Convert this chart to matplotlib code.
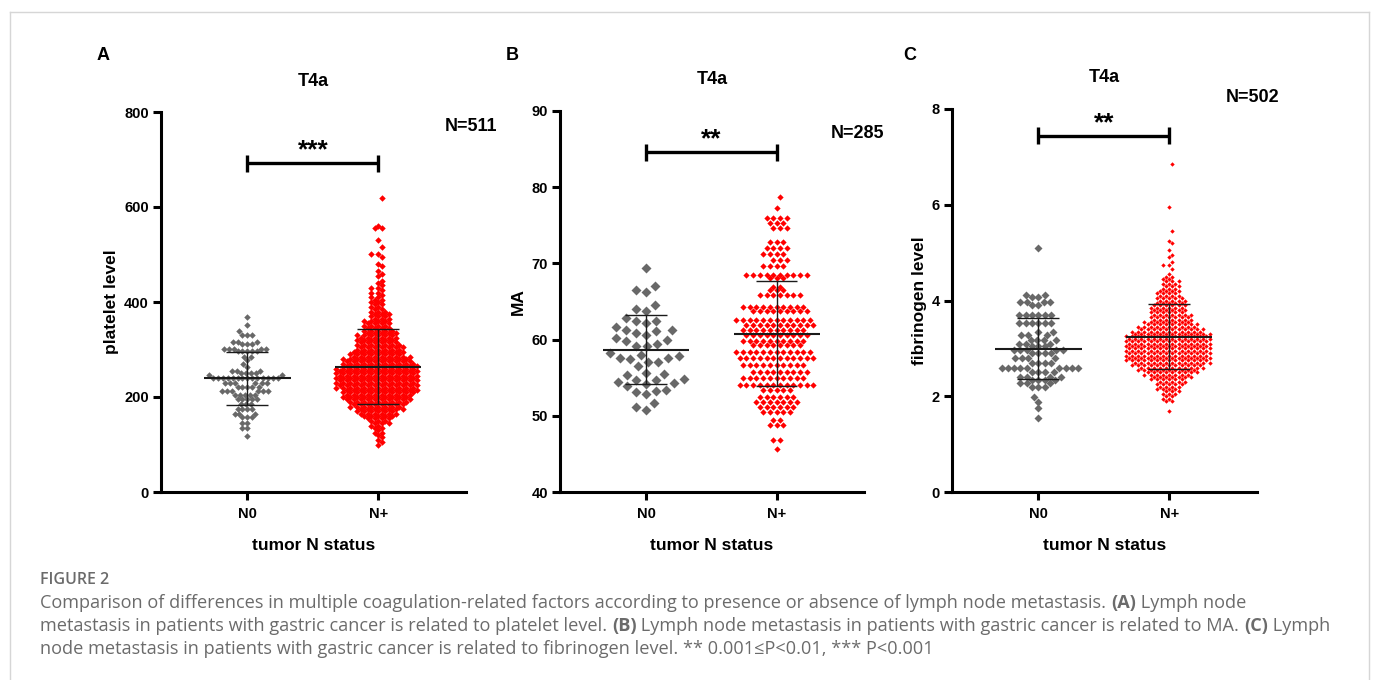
import matplotlib
matplotlib.use("Agg")
import matplotlib.pyplot as plt
from matplotlib.font_manager import FontProperties
from matplotlib.lines import Line2D
import numpy as np

plt.rcParams["font.family"] = ["Liberation Sans", "DejaVu Sans"]
plt.rcParams["font.weight"] = "bold"

W, H = 1373, 680
GROUPS = ["N0", "N+"]
GRAY = "#686868"
RED = "#ff0000"

# ---- Panel A: platelet level (row value, number of points in that row) ----
plt_n0_vals = [117, 135, 146, 157, 165, 175, 185, 195, 204, 212, 222, 230, 240, 246,
               250, 255, 264, 270, 278, 285, 296, 302, 311, 316, 331, 338, 352, 369]
plt_n0_counts = [1, 2, 2, 3, 3, 4, 3, 5, 5, 6, 5, 6, 14, 2,
                 4, 3, 1, 1, 1, 2, 5, 5, 3, 3, 3, 1, 1, 1]
plt_np_vals = [100, 105, 110, 115, 120, 125, 130, 135, 140, 145, 150, 155, 160, 165,
               170, 175, 180, 185, 190, 195, 200, 205, 210, 215, 220, 225, 230, 235,
               240, 245, 250, 255, 260, 265, 270, 275, 280, 285, 290, 295, 300, 305,
               310, 315, 320, 325, 330, 335, 340, 345, 350, 355, 360, 365, 370, 375,
               380, 385, 390, 395, 400, 405, 410, 415, 420, 425, 430, 435, 440, 445,
               455, 460, 465, 475, 480, 495, 500, 515, 530, 555, 560, 620]
plt_np_counts = [1, 1, 1, 1, 1, 2, 1, 2, 2, 3, 3, 4, 5, 6,
                 6, 7, 8, 8, 9, 10, 10, 10, 11, 11, 12, 12, 12, 12,
                 12, 12, 12, 12, 12, 11, 11, 10, 10, 9, 8, 8, 7, 7,
                 7, 6, 6, 6, 6, 5, 5, 4, 4, 4, 4, 3, 3, 3,
                 3, 2, 2, 2, 2, 2, 2, 1, 2, 1, 2, 1, 1, 1,
                 1, 1, 1, 1, 1, 1, 2, 1, 1, 2, 1, 1]
plt_mean = [239, 264]
plt_sd = [56, 78.5]

# ---- Panel B: MA (N0 as single values, N+ as rows) ----
ma_n0 = [69.4, 67.0, 66.5, 66.3, 64.6, 64.0, 63.8, 62.9, 62.5, 62.4, 62.2, 61.7,
         61.2, 61.2, 61.1, 60.9, 60.6, 60.2, 60.0, 59.8, 59.4, 59.2, 59.1, 58.2,
         58.0, 57.8, 57.6, 57.6, 57.4, 57.1, 57.0, 56.5, 55.6, 55.5, 55.4, 54.8,
         54.7, 54.7, 54.5, 54.3, 54.2, 53.9, 53.4, 53.3, 53.1, 52.8, 51.7, 51.2, 50.8]
ma_np_vals = [45.7, 46.85, 48.8, 49.4, 50.5, 51.2, 51.85, 52.5, 53.4, 54.0, 54.9,
              55.8, 56.7, 57.55, 58.4, 59.3, 59.8, 60.6, 61.3, 61.9, 62.6, 63.8,
              64.3, 65.8, 66.5, 66.9, 68.1, 68.5, 69.6, 70.4, 71.2, 72.0, 72.85,
              74.6, 75.3, 75.9, 77.3, 78.75]
ma_np_counts = [1, 2, 3, 2, 5, 6, 7, 6, 5, 12, 10,
                9, 10, 12, 12, 8, 10, 10, 10, 11, 12, 9,
                10, 7, 3, 2, 3, 10, 4, 3, 4, 4, 3,
                3, 3, 4, 1, 1]
ma_mean = [58.7, 60.8]
ma_sd = [4.5, 6.9]

# ---- Panel C: fibrinogen level ----
fib_n0_vals = [1.54, 1.75, 1.89, 1.99, 2.20, 2.27, 2.34, 2.41, 2.51, 2.58, 2.69, 2.79,
               2.90, 2.97, 3.04, 3.10, 3.17, 3.28, 3.35, 3.52, 3.70, 3.90, 3.97, 4.08,
               4.11, 5.09]
fib_n0_counts = [1, 1, 1, 1, 3, 3, 4, 4, 4, 9, 4, 4,
                 4, 5, 3, 3, 4, 3, 2, 6, 6, 2, 4, 2,
                 2, 1]
fib_np_vals = [1.70, 1.90, 1.95, 2.00, 2.05, 2.10, 2.15, 2.20, 2.25, 2.30, 2.35, 2.40,
               2.45, 2.50, 2.55, 2.60, 2.65, 2.70, 2.75, 2.80, 2.85, 2.90, 2.95, 3.00,
               3.05, 3.10, 3.15, 3.20, 3.25, 3.30, 3.35, 3.40, 3.45, 3.50, 3.55, 3.60,
               3.65, 3.70, 3.75, 3.80, 3.85, 3.90, 3.95, 4.00, 4.05, 4.10, 4.15, 4.20,
               4.25, 4.30, 4.35, 4.40, 4.45, 4.50, 4.55, 4.65, 4.75, 4.80, 4.90, 4.95,
               5.05, 5.20, 5.25, 5.45, 5.95, 6.85]
fib_np_counts = [1, 2, 2, 2, 3, 3, 4, 4, 5, 5, 6, 7,
                 8, 9, 10, 11, 12, 13, 14, 14, 14, 14, 14, 14,
                 14, 14, 14, 14, 14, 13, 12, 11, 10, 9, 8, 7,
                 7, 7, 6, 6, 6, 6, 5, 5, 5, 4, 4, 4,
                 3, 3, 3, 3, 2, 2, 1, 1, 2, 1, 1, 1,
                 1, 1, 1, 1, 1, 1]
fib_mean = [2.995, 3.245]
fib_sd = [0.645, 0.685]


def px(x, y):
    """Pixel position (from top-left) to figure fraction."""
    return x / W, 1 - y / H


def row_offsets(values, step_px, px_per_x):
    """Points sharing a value sit side by side in a centred row; neighbouring rows
    are staggered by half a step so the swarm fills in like the GraphPad layout."""
    vals = np.asarray(values, float)
    xs = np.zeros(len(vals))
    prev_phase = None
    for r, v in enumerate(np.unique(vals)):
        idx = np.flatnonzero(vals == v)
        k = len(idx)
        pos = (np.arange(k) - (k - 1) / 2) * step_px
        phase = 0.0 if k % 2 else 0.5
        if phase == prev_phase:
            pos += step_px / 2 * (1 if r % 2 else -1)
            phase = 0.5 - phase
        prev_phase = phase
        xs[idx] = pos
    return xs / px_per_x


def swarm_offsets(values, px_per_y, px_per_x, gap):
    """Beeswarm x offsets: each point goes as close to the centre as it can."""
    ys = np.asarray(values, float) * px_per_y
    xs = np.zeros(len(ys))
    placed = []
    for i in np.argsort(ys, kind="stable"):
        y = ys[i]
        idx = np.array([j for j in placed if abs(ys[j] - y) < gap], dtype=int)
        if len(idx):
            nx, ny = xs[idx], ys[idx]
            dx = np.sqrt(gap ** 2 - (ny - y) ** 2)
            cands = np.concatenate([[0.0], nx - dx, nx + dx])
            cands = cands[np.argsort(np.abs(cands), kind="stable")]
            d2 = (cands[:, None] - nx[None, :]) ** 2 + ((ny - y) ** 2)[None, :]
            xs[i] = cands[np.argmax(np.all(d2 >= gap ** 2 - 1e-6, axis=1))]
        placed.append(i)
    return xs / px_per_x


fig = plt.figure(figsize=(W / 100, H / 100), dpi=100)

panels = [
    dict(letter="A", box=(161, 466, 112, 492), ylim=(0, 800), yticks=[0, 200, 400, 600, 800],
         data=[np.repeat(plt_n0_vals, plt_n0_counts), np.repeat(plt_np_vals, plt_np_counts)],
         mean=plt_mean, sd=plt_sd, ylabel="platelet level", ylab_x=-0.161,
         stars="***", bar=692, n="N=511", n_pos=(1.016, 0.963),
         layout=[("swarm", 4.9), ("row", 7.0)], sizes=[6.5, 6.5], letter_px=(103, 55)),
    dict(letter="B", box=(560, 864, 111, 492), ylim=(40, 90), yticks=[40, 50, 60, 70, 80, 90],
         data=[np.array(ma_n0), np.repeat(ma_np_vals, ma_np_counts)],
         mean=ma_mean, sd=ma_sd, ylabel="MA", ylab_x=-0.138,
         stars="**", bar=84.6, n="N=285", n_pos=(0.98, 0.942),
         layout=[("swarm", 10.5), ("row", 6.7)], sizes=[10.0, 6.3], letter_px=(512, 55)),
    dict(letter="C", box=(952, 1257, 109, 492), ylim=(0, 8), yticks=[0, 2, 4, 6, 8],
         data=[np.repeat(fib_n0_vals, fib_n0_counts), np.repeat(fib_np_vals, fib_np_counts)],
         mean=fib_mean, sd=fib_sd, ylabel="fibrinogen level", ylab_x=-0.105,
         stars="**", bar=7.44, n="N=502", n_pos=(0.984, 1.031),
         layout=[("swarm", 6.3), ("row", 6.2)], sizes=[8.0, 4.4], letter_px=(910, 56)),
]

for p in panels:
    left, right, top, bottom = p["box"]
    ax = fig.add_axes([left / W, 1 - bottom / H, (right - left) / W, (bottom - top) / H])
    ax.set_xlim(-0.66, 1.67)
    ax.set_ylim(*p["ylim"])
    ax.set_yticks(p["yticks"])
    ax.set_xticks([0, 1])
    ax.set_xticklabels(GROUPS)
    for side in ("top", "right"):
        ax.spines[side].set_visible(False)
    for side in ("left", "bottom"):
        ax.spines[side].set_linewidth(2.2)
    ax.tick_params(direction="out", length=5.8, width=2.2, labelsize=10.5)
    ax.tick_params(axis="y", pad=3)
    ax.tick_params(axis="x", pad=5)

    ppx = (right - left) / (1.67 + 0.66)
    ppy = (bottom - top) / (p["ylim"][1] - p["ylim"][0])

    for k, (vals, color) in enumerate(zip(p["data"], [GRAY, RED])):
        kind, step = p["layout"][k]
        if kind == "row":
            offs = row_offsets(vals, step, ppx)
        else:
            offs = swarm_offsets(vals, ppy, ppx, step)
        ms = p["sizes"][k] / 1.389 / 1.414
        ax.scatter(k + offs, vals, marker="D", s=ms ** 2, color=color,
                   linewidths=0, zorder=3, clip_on=False)

        m, s = p["mean"][k], p["sd"][k]
        ax.hlines(m, k - 0.33, k + 0.33, color="#1a1a1a", lw=1.5, zorder=4)
        ax.hlines([m - s, m + s], k - 0.16, k + 0.16, color="#1a1a1a", lw=1.0, zorder=4)
        ax.vlines(k, m - s, m + s, color="#1a1a1a", lw=1.0, zorder=4)

    # significance bracket
    tick = 8.5 / ppy
    ax.plot([0, 1], [p["bar"], p["bar"]], color="black", lw=2.4, solid_capstyle="butt",
            clip_on=False)
    ax.vlines([0, 1], p["bar"] - tick, p["bar"] + tick, color="black", lw=2.4,
              clip_on=False)
    ax.annotate(p["stars"], xy=(0.5, p["bar"]), xytext=(0, 4), textcoords="offset points",
                ha="center", va="baseline", fontsize=19, fontweight="bold",
                annotation_clip=False)

    ax.text(0.5, 1 + 31 / (bottom - top), "T4a", transform=ax.transAxes,
            ha="center", va="center", fontsize=13, fontweight="bold")
    ax.text(0.5, -53 / (bottom - top), "tumor N status", transform=ax.transAxes,
            ha="center", va="center", fontsize=12.5, fontweight="bold")
    ax.text(p["ylab_x"], 0.5, p["ylabel"], transform=ax.transAxes, rotation=90,
            ha="center", va="center", fontsize=12.5, fontweight="bold")
    ax.text(*p["n_pos"], p["n"], transform=ax.transAxes,
            ha="center", va="center", fontsize=13, fontweight="bold")
    fig.text(*px(*p["letter_px"]), p["letter"], ha="center", va="center",
             fontsize=13, fontweight="bold")

# ---- frame ----
frame_kw = dict(color="#d6d6d6", lw=1.0, transform=fig.transFigure)
fig.add_artist(Line2D([10 / W, 10 / W], [0, 1 - 12 / H], **frame_kw))
fig.add_artist(Line2D([10 / W, 1369 / W], [1 - 12 / H, 1 - 12 / H], **frame_kw))
fig.add_artist(Line2D([1369 / W, 1369 / W], [0, 1 - 12 / H], **frame_kw))

# ---- caption ----
cap_family = ["Open Sans", "DejaVu Sans"]
cap_color = "#6b6b6b"
caption_lines = [
    [("Comparison of differences in multiple coagulation-related factors according to "
      "presence or absence of lymph node metastasis. ", "normal"), ("(A)", "bold"),
     (" Lymph node", "normal")],
    [("metastasis in patients with gastric cancer is related to platelet level. ", "normal"),
     ("(B)", "bold"),
     (" Lymph node metastasis in patients with gastric cancer is related to MA. ", "normal"),
     ("(C)", "bold"), (" Lymph", "normal")],
    [("node metastasis in patients with gastric cancer is related to fibrinogen level. "
      "** 0.001\u2264P<0.01, *** P<0.001", "normal")],
]
renderer = fig.canvas.get_renderer()


def advance(text, size, weight):
    prop = FontProperties(family=cap_family, size=size, weight=weight)
    w1 = renderer.get_text_width_height_descent(text + "x", prop, ismath=False)[0]
    w0 = renderer.get_text_width_height_descent("x", prop, ismath=False)[0]
    return w1 - w0


# fit font size so the second line spans the same width as in the figure
base = 10.0
w_line2 = sum(advance(t, base, wt) for t, wt in caption_lines[1])
cap_size = base * 1295 / w_line2

fig.text(*px(40, 580), "FIGURE 2", family=cap_family, fontsize=cap_size * 0.88,
         fontweight="semibold", color=cap_color, ha="left", va="center")
for row, runs in zip([603, 626, 649], caption_lines):
    x = 40.0
    for text, weight in runs:
        fig.text(*px(x, row), text, family=cap_family, fontsize=cap_size,
                 fontweight=weight, color=cap_color, ha="left", va="center")
        x += advance(text, cap_size, weight)

fig.savefig("out.png", dpi=100)
